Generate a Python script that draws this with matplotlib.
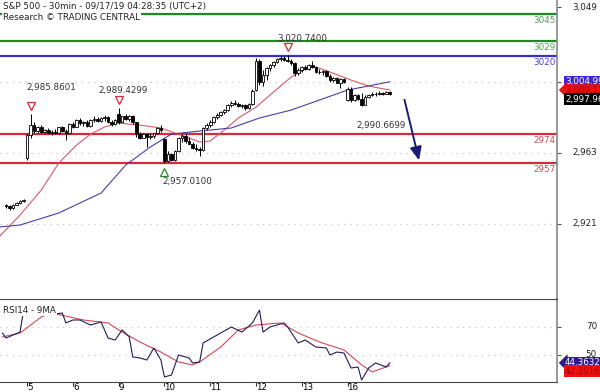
import matplotlib
matplotlib.use("Agg")
import matplotlib.pyplot as plt
import numpy as np
from matplotlib.transforms import blended_transform_factory, ScaledTranslation

# --- S&P 500 30min bars ---
opens = [2932.0, 2931.5, 2930.5, 2932.5, 2933.5, 2934.5,
         2960.0, 2973.5, 2979.5, 2976.0, 2978.0, 2975.5, 2976.5, 2975.0, 2975.5, 2974.5, 2978.0, 2976.0, 2974.5,
         2980.0, 2978.5, 2982.5, 2980.5, 2981.0, 2979.0, 2982.5, 2983.0, 2982.0, 2983.5, 2984.0, 2981.0, 2980.0,
         2986.0, 2981.5, 2984.5, 2983.0, 2985.0, 2981.0, 2974.0, 2972.0, 2974.0, 2972.5, 2973.0, 2974.5, 2977.5,
         2971.0, 2958.5, 2962.5, 2959.0, 2964.0, 2971.5, 2973.0, 2970.0, 2968.5, 2966.0, 2965.0, 2964.5, 2977.5,
         2979.5, 2981.5, 2984.0, 2985.5, 2987.0, 2988.5, 2991.0, 2992.5, 2992.0, 2990.5, 2991.5, 2989.5, 2992.0,
         3000.0, 3017.0, 3005.0, 3009.0, 3013.0, 3015.0, 3016.5, 3018.5, 3019.0, 3018.0, 3017.5, 3016.0, 3010.0,
         3012.0, 3013.5, 3012.5, 3015.0, 3014.0, 3011.0, 3010.5, 3011.5, 3008.5, 3006.0, 3007.5, 3004.5, 3006.5,
         2994.5, 3001.0, 2994.0, 2997.0, 2995.0, 2991.5, 2996.0, 2997.0, 2998.0, 2997.5, 2998.5, 2998.0, 2999.0]
highs = [2933.0, 2932.0, 2933.0, 2934.0, 2935.0, 2935.5,
         2974.5, 2985.86, 2981.0, 2979.0, 2979.5, 2977.0, 2977.5, 2976.5, 2977.0, 2978.5, 2979.0, 2977.0, 2980.5,
         2981.5, 2983.0, 2983.5, 2982.0, 2982.5, 2983.0, 2984.5, 2984.0, 2984.0, 2985.5, 2985.0, 2982.5, 2983.0,
         2989.43, 2985.0, 2986.0, 2985.5, 2985.5, 2981.5, 2975.5, 2975.0, 2974.5, 2974.5, 2975.0, 2978.5, 2979.5,
         2972.0, 2964.0, 2963.0, 2964.5, 2972.5, 2974.0, 2974.0, 2972.5, 2969.5, 2968.0, 2966.5, 2978.5, 2980.5,
         2982.5, 2984.5, 2986.5, 2988.0, 2989.0, 2992.0, 2993.5, 2994.0, 2993.0, 2992.0, 2992.0, 2992.5, 3000.5,
         3019.0, 3018.5, 3012.0, 3013.5, 3015.5, 3017.0, 3019.0, 3020.0, 3020.0, 3020.74, 3018.5, 3016.5, 3013.0,
         3014.5, 3015.0, 3015.5, 3017.5, 3014.5, 3012.5, 3012.0, 3012.0, 3009.5, 3008.0, 3008.0, 3007.5, 3007.5,
         3002.0, 3002.0, 2998.0, 2998.0, 2998.5, 2997.0, 2998.0, 2999.0, 2999.0, 2999.5, 2999.0, 2999.5, 2999.5]
lows = [2930.5, 2929.5, 2930.0, 2932.0, 2933.0, 2934.0,
        2959.0, 2972.0, 2975.0, 2974.5, 2975.0, 2974.0, 2974.5, 2973.5, 2974.0, 2974.0, 2975.5, 2970.5, 2974.0,
        2977.5, 2978.0, 2979.5, 2979.0, 2978.0, 2978.5, 2981.5, 2981.5, 2981.0, 2982.0, 2980.5, 2979.0, 2979.5,
        2980.0, 2981.0, 2982.5, 2982.0, 2980.0, 2972.5, 2971.0, 2971.5, 2966.5, 2971.0, 2972.0, 2974.0, 2975.5,
        2957.01, 2957.5, 2958.0, 2958.5, 2963.5, 2969.5, 2969.0, 2968.0, 2965.0, 2964.0, 2961.0, 2964.0, 2976.5,
        2978.5, 2980.5, 2983.0, 2984.5, 2986.0, 2988.0, 2990.0, 2991.0, 2990.0, 2989.5, 2988.5, 2989.0, 2991.5,
        2999.5, 3003.0, 3002.5, 3006.0, 3011.5, 3013.5, 3016.0, 3017.0, 3017.5, 3016.5, 3015.0, 3008.5, 3009.0,
        3011.0, 3012.0, 3012.0, 3013.0, 3010.0, 3009.5, 3009.0, 3008.0, 3005.0, 3005.0, 3004.0, 3001.5, 3004.5,
        2993.5, 2993.0, 2993.5, 2994.0, 2990.67, 2991.0, 2995.5, 2996.5, 2996.5, 2997.0, 2997.0, 2997.5, 2997.0]
closes = [2931.5, 2930.5, 2932.5, 2933.5, 2934.5, 2935.0,
          2973.5, 2979.5, 2976.0, 2978.0, 2975.5, 2976.5, 2975.0, 2975.5, 2974.5, 2978.0, 2976.0, 2974.5, 2980.0,
          2978.5, 2982.5, 2980.5, 2981.0, 2979.0, 2982.5, 2983.0, 2982.0, 2983.5, 2984.0, 2981.0, 2980.0, 2982.5,
          2981.5, 2984.5, 2983.0, 2985.0, 2981.0, 2974.0, 2972.0, 2974.0, 2972.5, 2973.0, 2974.5, 2977.5, 2976.5,
          2958.5, 2962.5, 2959.0, 2964.0, 2971.5, 2973.0, 2970.0, 2968.5, 2966.0, 2965.0, 2964.5, 2977.5, 2979.5,
          2981.5, 2984.0, 2985.5, 2987.0, 2988.5, 2991.0, 2992.5, 2992.0, 2990.5, 2991.5, 2989.5, 2992.0, 2999.5,
          3017.0, 3005.0, 3009.0, 3013.0, 3015.0, 3016.5, 3018.5, 3019.0, 3018.0, 3017.5, 3016.0, 3010.0, 3012.0,
          3013.5, 3012.5, 3015.0, 3014.0, 3011.0, 3010.5, 3011.5, 3008.5, 3006.0, 3007.5, 3004.5, 3006.5, 3005.0,
          3001.0, 2994.0, 2997.0, 2995.0, 2991.5, 2996.0, 2997.0, 2998.0, 2997.5, 2998.5, 2998.0, 2999.0, 2997.96]

day_labels = ["5", "6", "9", "10", "11", "12", "13", "16"]
day_first_bar = [6, 19, 32, 45, 58, 71, 84, 97]

# moving averages (bar index, value)
ma_fast_bar = [-2, 4, 10, 15, 20, 24, 28, 32, 38, 44, 48, 52, 55, 58, 62, 66, 71, 76, 81, 86, 89, 93, 98, 103, 109]
ma_fast = [2913.3, 2926.3, 2941.0, 2957.0, 2967.6, 2974.0, 2978.3, 2980.6, 2979.4, 2977.7, 2974.7, 2971.8,
           2969.4, 2970.0, 2976.5, 2983.6, 2990.0, 2999.0, 3007.8, 3013.7, 3013.0, 3010.0, 3006.0, 3002.5, 3000.11]
ma_slow_bar = [-2, 4, 15, 27, 34, 41, 47, 55, 64, 72, 81, 89, 97, 109]
ma_slow = [2919.2, 2920.4, 2927.5, 2939.3, 2955.8, 2966.5, 2974.1, 2975.9, 2977.7, 2983.6, 2988.3,
           2994.2, 3000.1, 3004.99]

# RSI14 and its 9MA
rsi_bar = [-1, 0, 4, 5, 6, 9, 12, 16, 17, 19, 21, 24, 27, 29, 31, 33, 35, 36, 38, 40, 42, 44, 45, 47, 49,
           52, 53, 55, 56, 59, 64, 67, 70, 72, 73, 75, 79, 80, 83, 85, 88, 91, 92, 94, 96, 98, 100, 101, 103,
           105, 108, 109]
rsi = [65.7, 62.1, 66.4, 82.1, 83.6, 82.1, 78.6, 80.0, 72.9, 75.0, 75.0, 71.4, 73.6, 62.1, 60.7, 67.9, 62.9,
       48.6, 47.9, 46.4, 55.0, 46.4, 34.3, 35.7, 50.0, 47.9, 44.3, 45.0, 58.6, 62.9, 70.0, 66.4, 72.9, 82.1,
       66.4, 70.0, 72.9, 70.0, 58.6, 60.7, 55.7, 55.0, 50.0, 52.1, 51.4, 40.7, 41.4, 32.1, 40.7, 44.3, 41.4,
       44.3632]
rsi_ma_bar = [-1, 4, 10, 13, 22, 29, 32, 38, 44, 49, 53, 55, 61, 66, 71, 78, 83, 89, 96, 101, 104, 109]
rsi_ma = [62.9, 65.7, 77.1, 80.0, 75.0, 72.9, 67.9, 59.3, 52.1, 45.0, 42.9, 45.0, 55.7, 67.9, 71.4, 72.9,
          65.7, 59.3, 53.6, 42.9, 37.9, 42.3916]

levels = [3045, 3029, 3020, 2974, 2957]
level_colors = ["#1f8a1f", "#1f8a1f", "#3a30c8", "#d42a3c", "#d42a3c"]
level_text_colors = ["#5a9a5a", "#5a9a5a", "#4a40c8", "#d04858", "#d04858"]

price_ticks = [3049, 3005, 2963, 2921]
price_tick_labels = ["3,049", "", "2,963", "2,921"]
rsi_ticks = [70, 50]

o = np.array(opens)
h = np.array(highs)
l = np.array(lows)
c = np.array(closes)
x = np.arange(len(c))

plt.rcParams["font.family"] = ["DejaVu Sans"]
fig = plt.figure(figsize=(6, 3.92), dpi=100)
ax = fig.add_axes([0, 1 - 299 / 392, 557 / 600, 299 / 392])
rx = fig.add_axes([0, 10 / 392, 557 / 600, 83 / 392], sharex=ax)

# grid
for t in price_ticks[1:]:
    ax.axhline(t, color="#c8c8c8", lw=0.9, ls=(0, (1, 4)), zorder=0)
for t in rsi_ticks:
    rx.axhline(t, color="#c8c8c8", lw=0.9, ls=(0, (1, 4)), zorder=0)

# support / resistance
ytrans = blended_transform_factory(ax.transAxes, ax.transData)
for lv, col, tc in zip(levels, level_colors, level_text_colors):
    ax.axhline(lv, color=col, lw=1.6, zorder=1)
    ax.annotate(str(lv), (1, lv), xycoords=ytrans, xytext=(-1, -2), textcoords="offset pixels",
                ha="right", va="top", color=tc, fontsize=6.3)

# candles
up = c >= o
ax.vlines(x, l, h, color="black", lw=0.7, zorder=3)
body = np.maximum(np.abs(c - o), 0.4)
ax.bar(x, body, bottom=np.minimum(o, c), width=0.75, color=np.where(up, "white", "black"),
       edgecolor="black", lw=0.6, zorder=4)

# moving averages
ax.plot(ma_fast_bar, ma_fast, color="#d85a6a", lw=0.8, zorder=2)
ax.plot(ma_slow_bar, ma_slow, color="#4c3ca8", lw=0.8, zorder=2)

# high / low marks
marks = [(7, highs[7], "v", "#d42a3c", "2,985.8601", -4, 18, "left"),
         (32, highs[32], "v", "#d42a3c", "2,989.4299", 4, 9, "center"),
         (80, highs[80], "v", "#d42a3c", "3,020.7400", 15, 8, "center"),
         (45, lows[45], "^", "#2a8a2a", "2,957.0100", -2, -9, "left")]
for bi, pv, mk, col, txt, dx, dy, ha in marks:
    sgn = 1 if mk == "v" else -1
    ax.plot([bi], [pv], marker=mk, ms=6, mfc="white", mec=col, mew=0.9, ls="none",
            transform=ax.transData + ScaledTranslation(0, sgn * 0.085, fig.dpi_scale_trans))
    ax.annotate(txt, (bi, pv), xytext=(dx, dy + sgn * 9), textcoords="offset pixels",
                ha=ha, va="center", fontsize=6.3, color="#333333")
ax.annotate("2,990.6699", (101, lows[101]), xytext=(-5, -19), textcoords="offset pixels",
            ha="left", va="center", fontsize=6.3, color="#333333")

# forecast arrow
ax.annotate("", xy=(len(c) + 7.5, levels[-1]), xytext=(len(c) + 3, c[-1] - 2),
            arrowprops=dict(arrowstyle="-|>,head_length=0.8,head_width=0.35", color="#1c1c78", lw=1.4))

# titles
fig.text(3 / 600, 1 - 6 / 392, "S&P 500 - 30min - 09/17/19 04:28:35 (UTC+2)", fontsize=6.3,
         va="center", ha="left", color="#222222")
fig.text(3 / 600, 1 - 17 / 392, "Research \u00a9 TRADING CENTRAL", fontsize=6.3, va="center", ha="left",
         color="#222222", bbox=dict(facecolor="white", edgecolor="none", pad=1.0), zorder=5)

# RSI
rx.plot(rsi_ma_bar, rsi_ma, color="#d04858", lw=0.8)
rx.plot(rsi_bar, rsi, color="#1e1e5a", lw=0.8)
rx.text(0.006, 0.86, "RSI14 - 9MA", transform=rx.transAxes, fontsize=6.3, va="center", ha="left",
        color="#222222", bbox=dict(facecolor="white", edgecolor="none", pad=0.5))

# axes styling
ax.set_xlim(-1.7, 156.5)
ax.set_ylim(2876.7, 3053.3)
rx.set_ylim(30.7, 90)
for a in (ax, rx):
    for s in ("left", "top", "bottom"):
        a.spines[s].set_visible(False)
    a.spines["right"].set_color("#888888")
    a.spines["right"].set_linewidth(1.2)
    a.tick_params(left=False, labelleft=False, right=True, labelright=False, length=3, color="#555555")
rx.spines["top"].set_visible(True)
rx.spines["bottom"].set_visible(True)
rx.spines["top"].set_color("#444444")
rx.spines["bottom"].set_color("#444444")
ax.tick_params(bottom=False, labelbottom=False)
ax.set_yticks(price_ticks)
rx.set_yticks(rsi_ticks)
rx.set_xticks(day_first_bar)
rx.set_xticklabels(day_labels, ha="left", fontsize=6.3)
rx.tick_params(axis="x", direction="out", length=3, pad=-2, color="#333333")

pt = blended_transform_factory(fig.transFigure, ax.transData)
for t, lab in zip(price_ticks, price_tick_labels):
    fig.text(597 / 600, t, lab, transform=pt, ha="right", va="center", fontsize=6.3, color="#222222")
rt = blended_transform_factory(fig.transFigure, rx.transData)
for t in rsi_ticks:
    fig.text(597 / 600, t, str(t), transform=rt, ha="right", va="center", fontsize=6.3, color="#222222")

# last value boxes
fig.text(565 / 600, ma_slow[-1], "3,004.99", transform=pt, ha="left", va="center", fontsize=6.3,
         color="white", bbox=dict(boxstyle="square,pad=0.15", facecolor="#3a28d0", edgecolor="none"))
fig.text(565 / 600, ma_fast[-1], "3,000.11", transform=pt, ha="left", va="center", fontsize=6.3,
         color="#a00000", bbox=dict(boxstyle="larrow,pad=0.15", facecolor="#ee1010", edgecolor="none"))
fig.text(565 / 600, c[-1] - 3.3, "2,997.96", transform=pt, ha="left", va="center", fontsize=6.3,
         color="white", bbox=dict(boxstyle="square,pad=0.15", facecolor="black", edgecolor="none"))
fig.text(565 / 600, rsi[-1], "44.3632", transform=rt, ha="left", va="center", fontsize=6.3,
         color="white", bbox=dict(boxstyle="larrow,pad=0.15", facecolor="#2c1890", edgecolor="none"))
fig.text(565 / 600, rsi_ma[-1] - 4, "42.3916", transform=rt, ha="left", va="center", fontsize=6.3,
         color="#a00000", bbox=dict(boxstyle="square,pad=0.15", facecolor="#ee1010", edgecolor="none"))

fig.savefig("out.png", dpi=100)
